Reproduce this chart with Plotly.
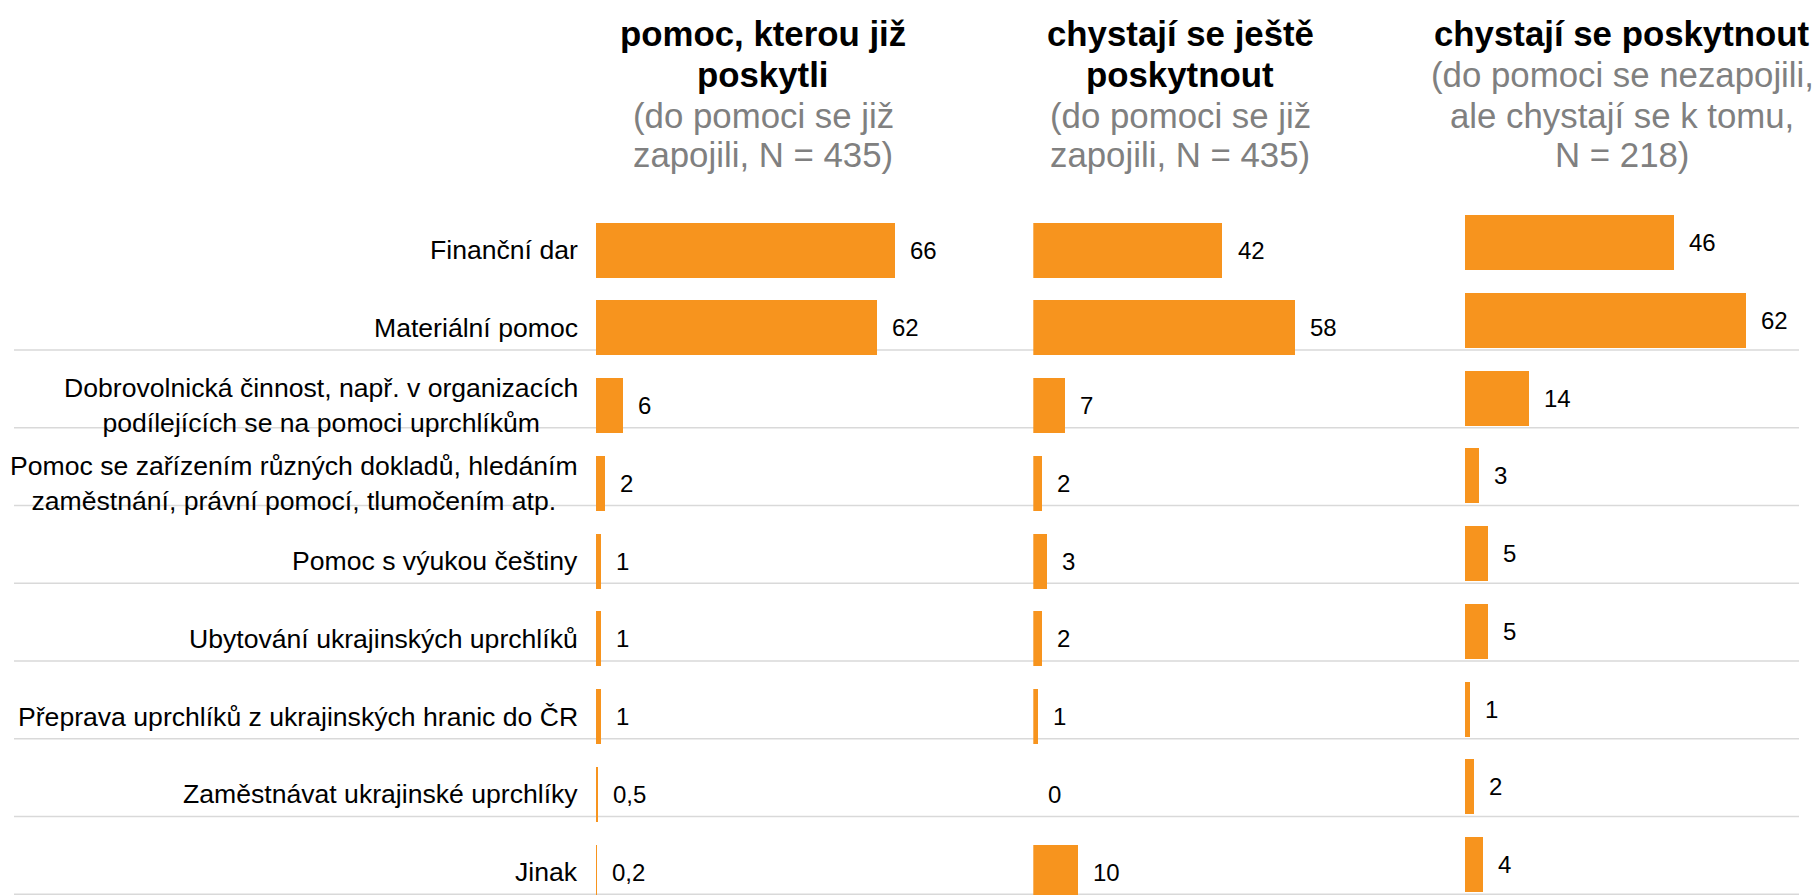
import plotly.graph_objects as go

# ---------------- data ----------------
categories = [
    "Finanční dar",
    "Materiální pomoc",
    "Dobrovolnická činnost",
    "Pomoc se zařízením dokladů",
    "Pomoc s výukou češtiny",
    "Ubytování ukrajinských uprchlíků",
    "Přeprava uprchlíků",
    "Zaměstnávat ukrajinské uprchlíky",
    "Jinak",
]
category_labels = [
    "Finanční dar",
    "Materiální pomoc",
    "Dobrovolnická činnost, např. v organizacích<br>podílejících se na pomoci uprchlíkům",
    "Pomoc se zařízením různých dokladů, hledáním<br>zaměstnání, právní pomocí, tlumočením atp.",
    "Pomoc s výukou češtiny",
    "Ubytování ukrajinských uprchlíků",
    "Přeprava uprchlíků z ukrajinských hranic do ČR",
    "Zaměstnávat ukrajinské uprchlíky",
    "Jinak",
]
already_given = [66, 62, 6, 2, 1, 1, 1, 0.5, 0.2]
plan_more = [42, 58, 7, 2, 3, 2, 1, 0, 10]
plan_new = [46, 62, 14, 3, 5, 5, 1, 2, 4]

panel_titles = [
    ["pomoc, kterou již", "poskytli"],
    ["chystají se ještě", "poskytnout"],
    ["chystají se poskytnout"],
]
panel_subtitles = [
    ["(do pomoci se již", "zapojili, N = 435)"],
    ["(do pomoci se již", "zapojili, N = 435)"],
    ["(do pomoci se nezapojili,", "ale chystají se k tomu,", "N = 218)"],
]

# ---------------- layout geometry ----------------
W, H = 1818, 895
ORANGE = "#F7941E"
GRAY_TXT = "#808080"
GRID = "#D9D9D9"
FONT = "Arial, Liberation Sans, sans-serif"

pitch = 77.75
row0_12 = 250.2
row0_3 = 242.6
bar_frac = 55 / pitch

def yrange(row0):
    ymin = -row0 / pitch
    ymax = ymin + H / pitch
    return [ymax, ymin]

panels = [
    # (x start px, x end px, px per unit)
    (596.0, 1010.0, 4.53),
    (1033.3, 1440.0, 4.51),
    (1465.0, 1818.0, 4.54),
]
title_centers = [763, 1180, 1622]

def fmt(v):
    return ("%g" % v).replace(".", ",")

fig = go.Figure()
series = [already_given, plan_more, plan_new]
axes = [("x", "y"), ("x2", "y"), ("x3", "y2")]
for vals, (xa, ya) in zip(series, axes):
    fig.add_trace(go.Bar(
        x=vals, y=categories, orientation="h",
        xaxis=xa, yaxis=ya,
        marker=dict(color=ORANGE, line=dict(width=0)),
        width=bar_frac, hoverinfo="skip", showlegend=False,
    ))

layout = dict(
    width=W, height=H,
    margin=dict(l=0, r=0, t=0, b=0),
    paper_bgcolor="white", plot_bgcolor="rgba(0,0,0,0)",
    bargap=0,
    font=dict(family=FONT, color="black"),
)
for i, (x0, x1, scale) in enumerate(panels):
    key = "xaxis" if i == 0 else "xaxis%d" % (i + 1)
    layout[key] = dict(
        domain=[x0 / W, x1 / W], range=[0, (x1 - x0) / scale],
        visible=False, fixedrange=True,
        anchor="y" if i < 2 else "y2",
    )
layout["yaxis"] = dict(
    domain=[0, 1], type="category", categoryarray=categories,
    range=yrange(row0_12), visible=False, anchor="x",
)
layout["yaxis2"] = dict(
    domain=[0, 1], type="category", categoryarray=categories,
    range=yrange(row0_3), visible=False, anchor="x3",
)
fig.update_layout(**layout)

annotations = []
# category labels
for i, lab in enumerate(category_labels):
    annotations.append(dict(
        text=lab, x=580 / W, xref="paper", y=i, yref="y",
        xanchor="right", yanchor="middle", align="center",
        showarrow=False, font=dict(size=26.6, color="black", family=FONT),
    ))
# value labels
for vals, (xa, ya) in zip(series, axes):
    for i, v in enumerate(vals):
        annotations.append(dict(
            text=fmt(v), x=v, xref=xa, y=i, yref=ya,
            xanchor="left", yanchor="middle", xshift=13,
            showarrow=False, font=dict(size=24, color="black", family=FONT),
        ))
# titles
line_y = [34, 75, 115, 155]
for p in range(3):
    lines = [(t, True) for t in panel_titles[p]] + [(t, False) for t in panel_subtitles[p]]
    for j, (t, bold) in enumerate(lines):
        annotations.append(dict(
            text="<b>%s</b>" % t if bold else t,
            x=title_centers[p] / W, xref="paper",
            y=1 - line_y[j] / H, yref="paper",
            xanchor="center", yanchor="middle", showarrow=False,
            font=dict(size=34.8, color="black" if bold else GRAY_TXT, family=FONT),
        ))
fig.update_layout(annotations=annotations)

# horizontal separator lines (below rows 2..9)
shapes = []
for i in range(1, len(categories)):
    yy = i + 22 / pitch
    shapes.append(dict(
        type="line", xref="paper", yref="y",
        x0=14 / W, x1=1799 / W, y0=yy, y1=yy,
        line=dict(color=GRID, width=1.5), layer="below",
    ))
fig.update_layout(shapes=shapes)

fig.write_html(
    "out.html",
    config={"displayModeBar": False},
    post_script="document.body.style.margin='0';document.body.style.overflow='hidden';",
)
